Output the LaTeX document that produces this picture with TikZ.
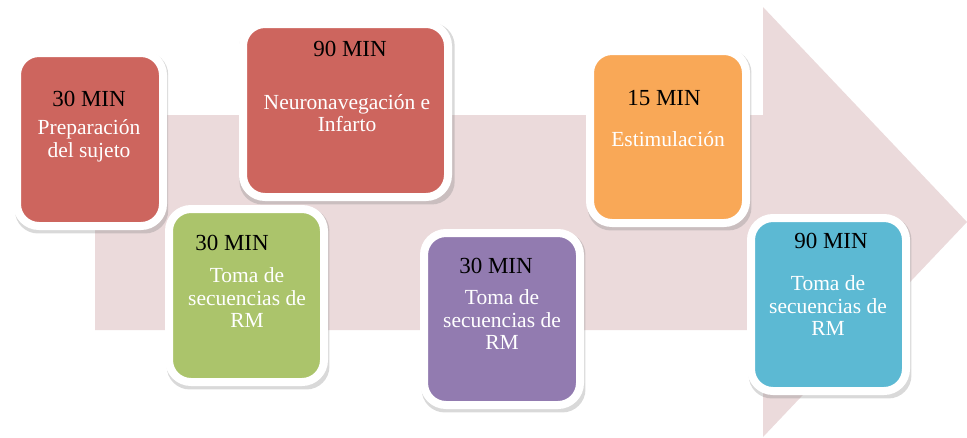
\documentclass[tikz,border=0pt]{standalone}
\usepackage{fontspec}
\setmainfont{Liberation Serif}
\usetikzlibrary{shadows}

\definecolor{flecha}{HTML}{EBDADB}
\definecolor{rojo}{HTML}{CD655E}
\definecolor{verde}{HTML}{ABC46B}
\definecolor{morado}{HTML}{927BB0}
\definecolor{naranja}{HTML}{F9A857}
\definecolor{azul}{HTML}{5CB9D3}

\begin{document}
\begin{tikzpicture}[x=1pt, y=-1pt,
        caja/.style={draw=white, line width=8pt, rounded corners=22pt,
            drop shadow={shadow xshift=1.5pt, shadow yshift=-3pt,
                shadow scale=1.05, opacity=0.3},
            inner sep=0pt},
        tiempo/.style={inner sep=0pt, font=\fontsize{23}{26}\selectfont},
        texto/.style={inner sep=0pt, text=white, align=center,
            font=\fontsize{21.5}{22.5}\selectfont}]
        \useasboundingbox (0, 0) rectangle (967, 437);

        % flecha de fondo
        \fill[flecha] (95, 115) -- (763, 115) -- (763, 7) -- (967, 222)
            -- (763, 437) -- (763, 330) -- (95, 330) -- cycle;

        % cajas
        \node[caja, fill=rojo, minimum width=146pt, minimum height=173pt] (prep) at (90, 139.5) {};
        \node[caja, fill=rojo, minimum width=205pt, minimum height=173pt] (neuro) at (345.5, 110.5) {};
        \node[caja, fill=verde, minimum width=155pt, minimum height=173pt] (rm1) at (246.5, 295.5) {};
        \node[caja, fill=morado, minimum width=156pt, minimum height=172pt] (rm2) at (502, 319) {};
        \node[caja, fill=naranja, minimum width=156pt, minimum height=172pt] (estim) at (668, 137) {};
        \node[caja, fill=azul, minimum width=155pt, minimum height=173pt] (rm3) at (828.5, 304.5) {};

        % tiempos
        \node[tiempo] (tprep) at (89, 99) {30 MIN};
        \node[tiempo] (tneuro) at (350, 49) {90 MIN};
        \node[tiempo] (trm1) at (232, 243) {30 MIN};
        \node[tiempo] (trm2) at (496, 266) {30 MIN};
        \node[tiempo] (testim) at (664, 98) {15 MIN};
        \node[tiempo] (trm3) at (831, 241) {90 MIN};

        % textos
        \node[texto] (dprep) at (89, 141) {Preparación\\del sujeto};
        \node[texto] (dneuro) at (347, 113) {Neuronavegación e\\Infarto};
        \node[texto] (drm1) at (247, 298) {Toma de\\secuencias de\\RM};
        \node[texto] (drm2) at (502, 320) {Toma de\\secuencias de\\RM};
        \node[texto] (destim) at (668, 139) {Estimulación};
        \node[texto] (drm3) at (828, 306) {Toma de\\secuencias de\\RM};
    \end{tikzpicture}
\end{document}
